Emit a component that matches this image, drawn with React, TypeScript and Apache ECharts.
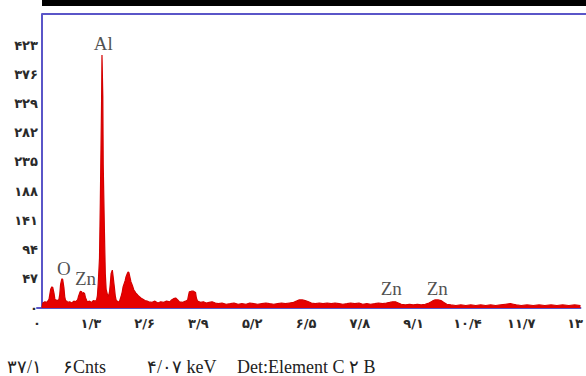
import React, { useEffect, useRef } from "react";
import * as echarts from "echarts";

// Spectrum: energy (keV) and counts
const energies = [
  0.12, 0.14, 0.19, 0.24, 0.29, 0.31, 0.33, 0.36, 0.38, 0.41, 0.43, 0.45, 0.48, 0.5, 0.53, 0.55, 0.57, 0.6, 0.62, 0.65,
  0.67, 0.69, 0.72, 0.74, 0.79, 0.84, 0.89, 0.93, 0.98, 1.0, 1.03, 1.05, 1.08, 1.1, 1.12, 1.15, 1.17, 1.2, 1.22, 1.27,
  1.32, 1.36, 1.41, 1.44, 1.46, 1.48, 1.51, 1.53, 1.56, 1.57, 1.59, 1.6, 1.63, 1.65, 1.67, 1.7, 1.72, 1.75, 1.77, 1.79,
  1.82, 1.84, 1.87, 1.89, 1.91, 1.94, 1.96, 1.99, 2.01, 2.03, 2.06, 2.08, 2.11, 2.13, 2.15, 2.18, 2.2, 2.22, 2.25, 2.27,
  2.3, 2.32, 2.34, 2.37, 2.39, 2.42, 2.44, 2.46, 2.51, 2.56, 2.61, 2.66, 2.7, 2.78, 2.85, 2.92, 2.99, 3.06, 3.13, 3.21,
  3.25, 3.3, 3.35, 3.4, 3.44, 3.52, 3.59, 3.64, 3.66, 3.68, 3.73, 3.78, 3.83, 3.85, 3.88, 3.95, 4.02, 4.09, 4.16, 4.23,
  4.31, 4.38, 4.47, 4.57, 4.67, 4.76, 4.86, 4.95, 5.05, 5.14, 5.24, 5.33, 5.43, 5.53, 5.62, 5.72, 5.81, 5.91, 6.0, 6.1,
  6.2, 6.27, 6.34, 6.41, 6.48, 6.56, 6.63, 6.72, 6.82, 6.91, 7.01, 7.11, 7.2, 7.3, 7.39, 7.49, 7.58, 7.68, 7.78, 7.87,
  7.97, 8.06, 8.16, 8.25, 8.35, 8.44, 8.52, 8.59, 8.66, 8.73, 8.8, 8.9, 9.0, 9.09, 9.19, 9.28, 9.38, 9.47, 9.55, 9.62,
  9.69, 9.76, 9.83, 9.9, 10.0, 10.12, 10.24, 10.36, 10.48, 10.6, 10.72, 10.84, 10.96, 11.08, 11.2, 11.32, 11.44, 11.51, 11.58, 11.7,
  11.84, 11.99, 12.13, 12.27, 12.42, 12.56, 12.7, 12.85, 12.99, 13.13,
];
const counts = [
  0, 8, 10, 9, 14, 22, 30, 34, 33, 24, 15, 12, 13, 11, 14, 22, 38, 47, 46, 33,
  18, 12, 11, 9, 10, 8, 11, 10, 13, 18, 24, 27, 26, 22, 25, 23, 17, 12, 10, 11,
  9, 12, 11, 13, 20, 40, 80, 170, 330, 407, 340, 230, 120, 55, 30, 22, 18, 25, 38, 55,
  61, 50, 33, 20, 13, 11, 10, 10, 14, 18, 26, 34, 40, 44, 50, 55, 58, 57, 48, 42,
  37, 33, 29, 26, 24, 22, 20, 19, 16, 14, 12, 11, 10, 9, 11, 8, 10, 9, 11, 10,
  13, 15, 16, 13, 10, 9, 11, 13, 20, 26, 27, 27, 25, 16, 11, 9, 10, 8, 9, 10,
  8, 7, 8, 6, 7, 8, 6, 7, 6, 8, 7, 6, 7, 8, 7, 6, 7, 8, 7, 8,
  9, 11, 13, 13, 12, 10, 8, 7, 8, 7, 8, 7, 8, 7, 6, 7, 8, 7, 8, 6,
  7, 6, 7, 8, 7, 8, 9, 10, 10, 8, 6, 5, 6, 5, 6, 5, 6, 8, 11, 13,
  13, 12, 9, 6, 5, 4, 5, 4, 5, 4, 5, 4, 5, 4, 5, 6, 7, 6, 5, 4,
  5, 4, 5, 4, 5, 4, 5, 4, 5, 4,
];

// Tick labels (Persian digits, "/" as decimal separator)
const xTickValues = [0, 1.3, 2.6, 3.9, 5.2, 6.5, 7.8, 9.1, 10.4, 11.7, 13];
const xTickLabels = ["۰", "۱/۳", "۲/۶", "۳/۹", "۵/۲", "۶/۵", "۷/۸", "۹/۱", "۱۰/۴", "۱۱/۷", "۱۳"];
const yTickValues = [0, 47, 94, 141, 188, 235, 282, 329, 376, 423];
const yTickLabels = ["۰", "۴۷", "۹۴", "۱۴۱", "۱۸۸", "۲۳۵", "۲۸۲", "۳۲۹", "۳۷۶", "۴۲۳"];

// Peak annotations
const peakNames = ["O", "Zn", "Al", "Zn", "Zn"];
const peakX = [0.65, 1.17, 1.6, 8.56, 9.67];
const peakY = [64, 47, 425, 32, 32];

// Footer texts
const footerTexts = ["۳۷/۱", "۶Cnts", "۴/۰۷ keV", "Det:Element C ۲ B"];

const BLUE = "#5a55c8";
const RED = "#e60000";

export default function App() {
  const ref = useRef<HTMLDivElement>(null);
  useEffect(() => {
    if (!ref.current) return;
    const chart = echarts.init(ref.current, null, { renderer: "svg" });
    const footerX = [7, 63, 147, 237];
    chart.setOption({
      animation: false,
      backgroundColor: "#ffffff",
      grid: { left: 37, right: 0, top: 14, bottom: 68 },
      xAxis: {
        type: "value",
        min: 0,
        max: 13.13,
        axisLine: { show: true, lineStyle: { color: BLUE, width: 2 } },
        axisTick: { show: false },
        splitLine: { show: false },
        axisLabel: {
          customValues: xTickValues,
          formatter: (v: number) => {
            const i = xTickValues.findIndex((t) => Math.abs(t - v) < 1e-6);
            return i >= 0 ? xTickLabels[i] : "";
          },
          margin: 9,
          fontFamily: "DejaVu Sans",
          fontSize: 13,
          fontWeight: "bold",
          color: "#2a2a2a",
        },
      },
      yAxis: {
        type: "value",
        min: 0,
        max: 473,
        offset: -5,
        axisLine: { show: true, lineStyle: { color: BLUE, width: 2 } },
        axisTick: { show: false },
        splitLine: { show: false },
        axisLabel: {
          customValues: yTickValues,
          formatter: (v: number) => {
            const i = yTickValues.findIndex((t) => Math.abs(t - v) < 1e-6);
            return i >= 0 ? yTickLabels[i] : "";
          },
          margin: 4,
          fontFamily: "DejaVu Sans",
          fontSize: 13,
          fontWeight: "bold",
          color: "#2a2a2a",
        },
      },
      series: [
        {
          type: "line",
          data: energies.map((e, i) => [e, counts[i]]),
          symbol: "none",
          lineStyle: { color: "#d40000", width: 1.2 },
          areaStyle: { color: RED, opacity: 1 },
          z: 1,
        },
        {
          type: "scatter",
          data: peakNames.map((n, i) => ({ value: [peakX[i], peakY[i]], name: n })),
          symbolSize: 0,
          label: {
            show: true,
            position: "inside",
            formatter: (p: any) => p.name,
            fontFamily: "Liberation Serif",
            fontSize: 19,
            color: "#222",
          },
          z: 3,
        },
      ],
      graphic: [
        { type: "rect", shape: { x: 42, y: 0, width: 544, height: 6 }, style: { fill: "#000" } },
        { type: "line", shape: { x1: 42, y1: 14, x2: 586, y2: 14 }, style: { stroke: BLUE, lineWidth: 2 } },
        ...footerTexts.map((t, i) => ({
          type: "text",
          x: footerX[i],
          y: 367,
          style: {
            text: t,
            fontFamily: "Liberation Serif",
            fontSize: 18,
            fill: "#222",
            verticalAlign: "middle",
          },
        })),
      ],
    });
    return () => chart.dispose();
  }, []);
  return (
    <div
      ref={ref}
      style={{ position: "fixed", left: 0, top: 0, width: 586, height: 376 }}
    />
  );
}
